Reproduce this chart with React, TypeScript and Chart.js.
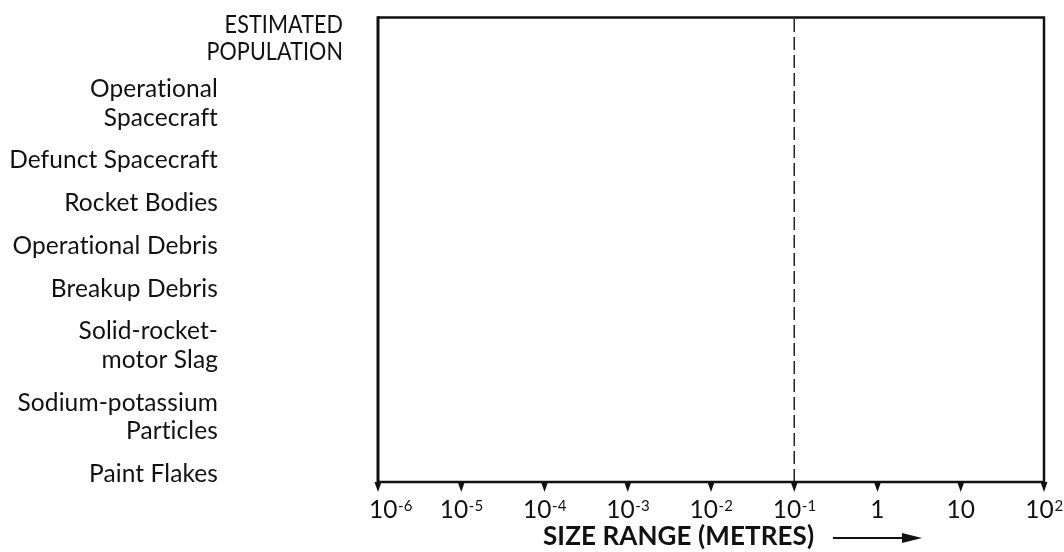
import React, { useEffect, useRef } from 'react';
import { Chart, registerables } from 'chart.js';

Chart.register(...registerables);

// ---- data ----
const headerLines: string[] = ['ESTIMATED', 'POPULATION'];
const populationCategories: string[][] = [
  ['Operational', 'Spacecraft'],
  ['Defunct Spacecraft'],
  ['Rocket Bodies'],
  ['Operational Debris'],
  ['Breakup Debris'],
  ['Solid-rocket-', 'motor Slag'],
  ['Sodium-potassium', 'Particles'],
  ['Paint Flakes'],
];
const sizeTicks: number[] = [1e-6, 1e-5, 1e-4, 1e-3, 1e-2, 1e-1, 1, 10, 100];
const sizeTickBase: string[] = ['10', '10', '10', '10', '10', '10', '1', '10', '10'];
const sizeTickExp: string[] = ['-6', '-5', '-4', '-3', '-2', '-1', '', '', '2'];
const thresholdSize = 0.1;
const axisTitle = 'SIZE RANGE (METRES)';

const FONT = 'Lato, "Liberation Sans", sans-serif';
const LABEL_PX = 24.5;

const decorPlugin = {
  id: 'decor',
  afterDraw(chart: any) {
    const { ctx, chartArea } = chart;
    const { left, right, top, bottom } = chartArea;
    const xs = chart.scales.x;
    ctx.save();
    try {
      (ctx as any).letterSpacing = '0.1px';
    } catch (e) {
      /* ignore */
    }
    ctx.fillStyle = '#111';
    ctx.strokeStyle = '#111';

    // frame
    ctx.lineWidth = 2.5;
    ctx.beginPath();
    ctx.moveTo(left, top);
    ctx.lineTo(right, top);
    ctx.lineTo(right, bottom);
    ctx.lineTo(left, bottom);
    ctx.stroke();
    ctx.lineWidth = 3;
    ctx.beginPath();
    ctx.moveTo(left, top - 1.25);
    ctx.lineTo(left, bottom + 1.25);
    ctx.stroke();

    // tick marks + labels
    sizeTicks.forEach((v, i) => {
      const px = xs.getPixelForValue(v);
      ctx.beginPath();
      ctx.moveTo(px - 3.5, bottom);
      ctx.lineTo(px + 3.5, bottom);
      ctx.lineTo(px, bottom + 10);
      ctx.closePath();
      ctx.fill();

      const base = sizeTickBase[i];
      const exp = sizeTickExp[i];
      ctx.font = `${LABEL_PX}px ${FONT}`;
      const wb = ctx.measureText(base).width;
      ctx.font = `15px ${FONT}`;
      const we = exp ? ctx.measureText(exp).width : 0;
      const x0 = Math.max(px - (wb + we) / 2, left - 9);
      ctx.textAlign = 'left';
      ctx.textBaseline = 'alphabetic';
      ctx.font = `${LABEL_PX}px ${FONT}`;
      ctx.fillText(base, x0, bottom + 36);
      if (exp) {
        ctx.font = `15px ${FONT}`;
        ctx.fillText(exp, x0 + wb + 0.5, bottom + 29);
      }
    });

    // header (condensed caps)
    ctx.font = `${LABEL_PX}px ${FONT}`;
    ctx.textAlign = 'right';
    headerLines.forEach((t, i) => {
      ctx.save();
      ctx.translate(left - 35, top + 15.5 + i * 27);
      ctx.scale(0.88, 1);
      ctx.fillText(t, 0, 0);
      ctx.restore();
    });

    // category labels
    let y = top + 79.5;
    populationCategories.forEach((lines, ci) => {
      if (ci > 0) y += 42.7;
      lines.forEach((t, li) => {
        if (li > 0) y += 28.7;
        ctx.fillText(t, left - 160, y);
      });
    });

    // axis title + arrow
    ctx.font = `bold 26px ${FONT}`;
    ctx.textAlign = 'left';
    ctx.fillText(axisTitle, left + 165, bottom + 63);
    const ay = bottom + 56;
    ctx.lineWidth = 2;
    ctx.beginPath();
    ctx.moveTo(left + 455, ay);
    ctx.lineTo(left + 528, ay);
    ctx.stroke();
    ctx.beginPath();
    ctx.moveTo(left + 524, ay - 5);
    ctx.lineTo(left + 544, ay);
    ctx.lineTo(left + 524, ay + 5);
    ctx.closePath();
    ctx.fill();
    ctx.restore();
  },
};

export default function App() {
  const ref = useRef<HTMLCanvasElement | null>(null);
  useEffect(() => {
    if (!ref.current) return;
    const chart = new Chart(ref.current, {
      type: 'line',
      data: {
        datasets: [
          {
            label: 'threshold',
            data: [
              { x: thresholdSize, y: 0 },
              { x: thresholdSize, y: 1 },
            ],
            borderColor: '#222',
            borderWidth: 1.5,
            borderDash: [13, 5],
            pointRadius: 0,
            fill: false,
          },
        ],
      },
      options: {
        animation: false,
        responsive: true,
        maintainAspectRatio: false,
        layout: { padding: { left: 378, right: 20, top: 17.5, bottom: 70 } },
        plugins: { legend: { display: false }, tooltip: { enabled: false } },
        scales: {
          x: {
            type: 'logarithmic',
            min: 1e-6,
            max: 1e2,
            display: false,
            afterBuildTicks: (s: any) => {
              s.ticks = sizeTicks.map((v) => ({ value: v }));
            },
          },
          y: { type: 'linear', min: 0, max: 1, display: false },
        },
      },
      plugins: [decorPlugin],
    } as any);
    return () => chart.destroy();
  }, []);
  return (
    <div style={{ position: 'absolute', left: 0, top: 0, width: 1064, height: 552, background: '#fff' }}>
      <canvas ref={ref} />
    </div>
  );
}
